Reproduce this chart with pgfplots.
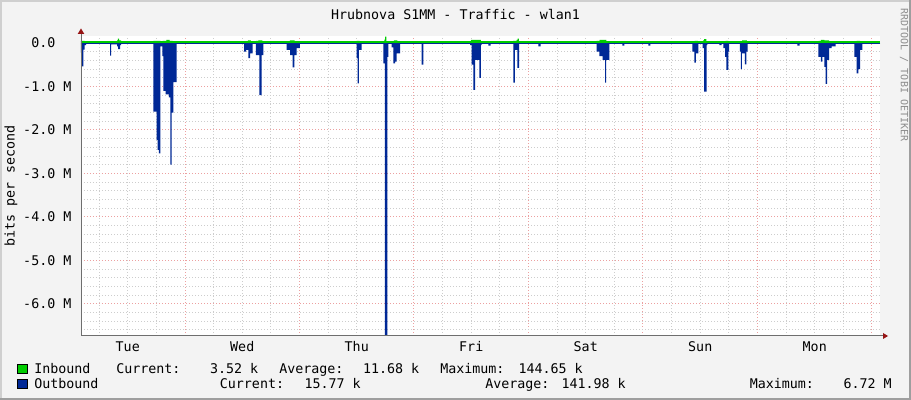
\documentclass[border=0pt]{standalone}
\usepackage{fontspec}
\setmainfont{DejaVu Sans Mono}
\usepackage{pgfplots}
\pgfplotsset{compat=1.18}

\definecolor{canvas}{RGB}{243,243,243}
\definecolor{frameL}{RGB}{207,207,207}
\definecolor{frameD}{RGB}{158,158,158}
\definecolor{outblue}{RGB}{0,40,150}
\definecolor{ingreen}{RGB}{0,204,0}
\definecolor{mgrid}{RGB}{236,160,160}
\definecolor{sgrid}{RGB}{205,205,205}
\definecolor{arrowred}{RGB}{150,20,20}
\definecolor{axisgray}{RGB}{110,110,110}

% x = hours since Tue 00:00, y = bits per second in M (outbound negative)
\begin{document}
\begin{tikzpicture}[x=0.75pt,y=0.75pt]
\useasboundingbox (0,0) rectangle (911,400);
\fill[canvas] (0,0) rectangle (911,400);
\fill[frameL] (0,0) rectangle (2,400);
\fill[frameL] (0,398) rectangle (911,400);
\fill[frameD] (909,0) rectangle (911,400);
\fill[frameD] (0,0) rectangle (911,2);

\begin{axis}[
    at={(60.75pt,48pt)}, anchor=south west,
    scale only axis, width=599.25pt, height=225pt,
    xmin=2.2, xmax=169.68, ymin=-6.74, ymax=0.161,
    axis line style={draw=none},
    axis background/.style={fill=white},
    xtick={24,48,72,96,120,144,168},
    xticklabels={,,,,,,},
    minor xtick={6,12,18,30,36,42,54,60,66,78,84,90,102,108,114,126,132,138,150,156,162},
    extra x ticks={12,36,60,84,108,132,156},
    extra x tick labels={Tue,Wed,Thu,Fri,Sat,Sun,Mon},
    extra x tick style={grid=none, tick label style={anchor=base, yshift=-11.6pt}},
    ytick={-6,-5,-4,-3,-2,-1,0},
    yticklabels={-6.0 M,-5.0 M,-4.0 M,-3.0 M,-2.0 M,-1.0 M,0.0\hphantom{MM}},
    yticklabel style={anchor=east, inner sep=0pt, xshift=-7pt},
    minor ytick={-6.6,-6.4,-6.2,-5.8,-5.6,-5.4,-5.2,-4.8,-4.6,-4.4,-4.2,-3.8,-3.6,-3.4,-3.2,-2.8,-2.6,-2.4,-2.2,-1.8,-1.6,-1.4,-1.2,-0.8,-0.6,-0.4,-0.2},
    grid=both,
    major grid style={mgrid, line width=0.75pt, dash pattern=on 0.75pt off 1.5pt},
    minor grid style={sgrid, line width=0.75pt, dash pattern=on 0.75pt off 1.5pt},
    major tick length=0pt, minor tick length=0pt,
    tick label style={font=\fontsize{10}{12}\selectfont},
]
% outbound
\addplot[const plot, fill=outblue, draw=none] coordinates {
 (2.20,0) (2.20,-0.22) (2.45,-0.54) (2.70,-0.15) (2.98,-0.05) (3.25,0)
 (8.28,-0.29) (8.49,-0.03) (9.75,-0.08) (10.0,-0.14) (10.4,-0.05) (10.6,0)
 (17.36,-1.58) (18.07,-2.23) (18.25,-2.46) (18.5,-2.54) (18.82,-0.08) (19.24,-0.30)
 (19.45,-1.10) (19.95,-1.18) (20.6,-1.25) (20.95,-2.80) (21.2,-1.60) (21.55,-0.90) (22.26,0)
 (36.37,-0.20) (36.79,-0.16) (37.27,-0.35) (37.63,-0.24) (38.19,0)
 (38.88,-0.28) (39.57,-1.20) (40.08,-0.28) (40.41,0)
 (45.32,-0.16) (46.01,-0.28) (46.58,-0.56) (46.91,-0.28) (47.41,-0.12) (48.10,0)
 (59.99,-0.35) (60.20,-0.93) (60.47,-0.16) (61.04,0)
 (65.57,-0.47) (65.92,-6.74) (66.40,-0.32) (66.61,0)
 (67.33,-0.10) (67.66,-0.47) (68.02,-0.43) (68.38,-0.24) (69.07,0)
 (73.61,-0.50) (73.95,0)
 (83.74,-0.05) (84.10,-0.50) (84.43,-1.08) (84.79,-0.39) (85.69,-0.80) (86.04,-0.05) (86.19,0)
 (87.57,-0.06) (88.08,0)
 (92.81,-0.91) (93.17,-0.16) (93.65,-0.57) (94.01,0)
 (98.05,-0.08) (98.56,0)
 (110.30,-0.20) (110.85,-0.30) (111.56,-0.39) (112.04,-0.91) (112.25,-0.39) (112.94,0)
 (115.66,-0.06) (116.08,0)
 (121.11,-0.06) (121.53,0)
 (130.34,-0.20) (130.75,-0.45) (131.11,-0.24) (131.59,0)
 (132.51,-0.12) (132.79,-1.12) (133.35,-0.05) (133.48,0)
 (135.99,-0.05) (136.50,0)
 (136.83,-0.12) (137.20,-0.32) (137.50,-0.62) (137.88,-0.20) (138.03,0)
 (140.33,-0.20) (140.54,-0.60) (140.75,-0.24) (141.38,-0.49) (141.65,-0.20) (141.95,0)
 (152.34,-0.06) (152.85,0)
 (156.75,-0.32) (157.31,-0.43) (157.58,-0.32) (158.00,-0.55) (158.30,-0.94) (158.57,-0.39)
 (158.99,-0.12) (159.56,-0.08) (160.40,0)
 (164.29,-0.32) (164.80,-0.70) (165.13,-0.60) (165.49,-0.16) (165.97,0)
 (169.68,0)
};
% inbound
\addplot[const plot, fill=ingreen, draw=none] coordinates {
 (2.20,0) (2.20,0.05) (2.98,0)
 (8.2,0.04) (8.6,0)
 (9.75,0.06) (9.95,0.10) (10.2,0.06) (10.6,0)
 (17.36,0.05) (18.9,0)
 (19.3,0.05) (20.1,0.07) (20.8,0.05) (21.4,0)
 (36.5,0.04) (37.2,0.06) (37.8,0)
 (38.9,0.05) (39.4,0.06) (40.2,0)
 (45.4,0.04) (46.0,0.06) (47.0,0.04) (47.6,0)
 (60.0,0.05) (60.6,0)
 (65.8,0.08) (65.95,0.145) (66.2,0)
 (67.4,0.04) (67.8,0.06) (68.5,0.04) (69.0,0)
 (83.9,0.07) (86.0,0)
 (92.8,0.05) (93.5,0.07) (93.7,0.10) (94.0,0)
 (110.3,0.05) (110.9,0.07) (112.3,0.04) (112.9,0)
 (130.4,0.04) (130.8,0.05) (131.5,0)
 (132.6,0.06) (132.8,0.09) (133.3,0)
 (136.9,0.03) (137.3,0.05) (137.9,0)
 (140.4,0.04) (140.8,0.06) (141.8,0)
 (156.8,0.05) (157.3,0.07) (158.0,0.06) (159.0,0.04) (160.0,0)
 (164.3,0.04) (164.8,0.05) (165.5,0)
 (169.68,0)
};
\addplot[outblue, line width=0.75pt, yshift=-0.4pt] coordinates {(2.2,0) (169.68,0)};
\addplot[ingreen, line width=1.3pt, yshift=0.6pt] coordinates {(2.2,0) (169.68,0)};
\end{axis}

% axes and arrows
\draw[axisgray, line width=0.75pt] (81,64) -- (81,369);
\draw[axisgray, line width=0.75pt] (81,64) -- (884,64);
\fill[arrowred] (77.7,366) -- (84.3,366) -- (81,371.5) -- cycle;
\fill[arrowred] (883,67) -- (883,61) -- (888,64) -- cycle;

% texts
\node[font=\fontsize{10}{12}\selectfont] at (455.5,386) {Hrubnova S1MM - Traffic - wlan1};
\node[rotate=90, font=\fontsize{10}{12}\selectfont] at (11,214) {bits per second};
\node[rotate=-90, text=black!45, font=\fontsize{7.5}{8}\selectfont] at (904,325) {RRDTOOL / TOBI OETIKER};

% legend
\begin{scope}[every node/.style={inner sep=0pt, font=\fontsize{10}{12}\selectfont}]
\filldraw[fill=ingreen, draw=black, line width=0.5pt] (17.5,26.5) rectangle (27,36);
\filldraw[fill=outblue, draw=black, line width=0.5pt] (17.5,11.5) rectangle (27,21);
\node[anchor=base west] at (34,26.5) {Inbound};
\node[anchor=base west] at (116,26.5) {Current:};
\node[anchor=base east] at (258.5,26.5) {3.52 k};
\node[anchor=base west] at (279,26.5) {Average:};
\node[anchor=base east] at (419.5,26.5) {11.68 k};
\node[anchor=base west] at (440,26.5) {Maximum:};
\node[anchor=base east] at (583,26.5) {144.65 k};
\node[anchor=base west] at (34,11.5) {Outbound};
\node[anchor=base west] at (219.6,11.5) {Current:};
\node[anchor=base east] at (361,11.5) {15.77 k};
\node[anchor=base west] at (485,11.5) {Average:};
\node[anchor=base east] at (626,11.5) {141.98 k};
\node[anchor=base west] at (749.5,11.5) {Maximum:};
\node[anchor=base east] at (892,11.5) {6.72 M};
\end{scope}
\end{tikzpicture}
\end{document}
